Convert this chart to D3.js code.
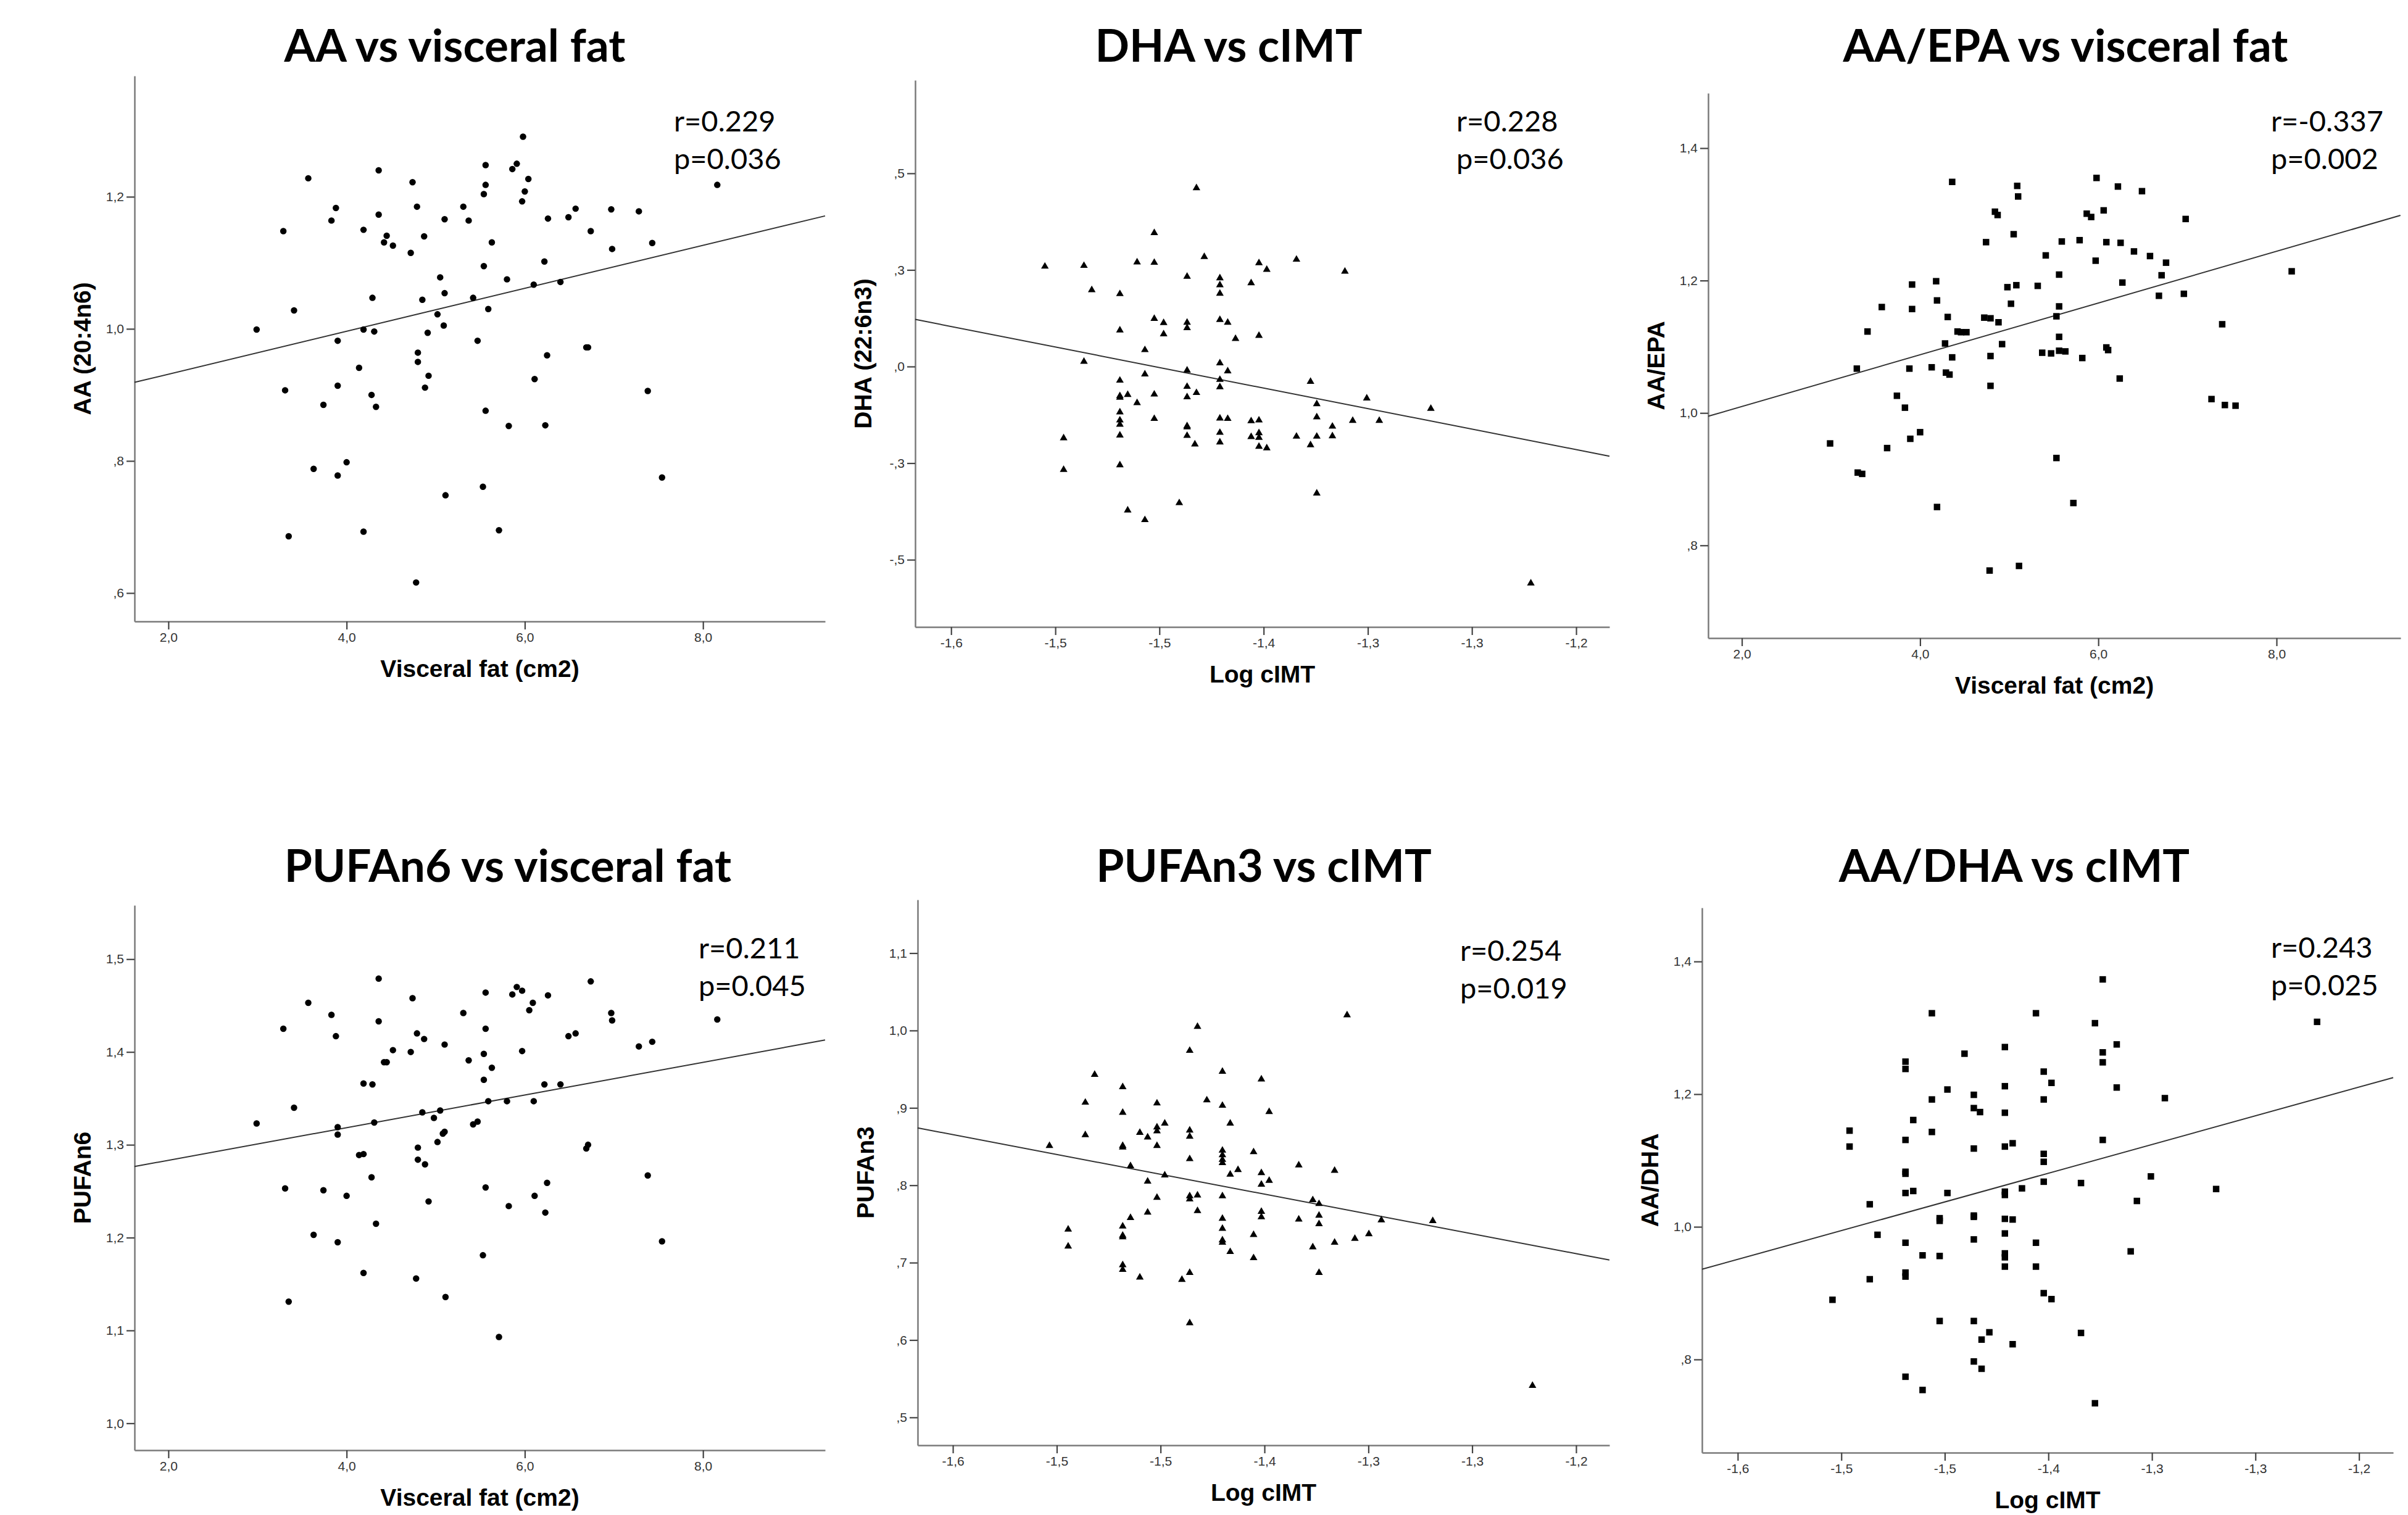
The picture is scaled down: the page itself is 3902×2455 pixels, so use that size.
<!DOCTYPE html>
<html lang="en">
<head>
<meta charset="UTF-8">
<title>Fatty acids vs visceral fat and cIMT</title>
<script src="https://d3js.org/d3.v7.min.js"></script>
<style>
  body { margin: 0; background: #fff; }
  .title { font-family: Lato, "Open Sans", sans-serif; font-weight: 700; font-size: 73px; fill: #000; }
  .stat { font-family: Lato, "Open Sans", sans-serif; font-size: 47px; fill: #000; }
  .axis-title { font-family: "Liberation Sans", Arial, sans-serif; font-weight: 700; font-size: 39px; fill: #000; }
  .tick text { font-family: "Liberation Sans", Arial, sans-serif; font-size: 21px; fill: #333; }
</style>
</head>
<body>
<script>
// ---- axis ticks and labels (SPSS style, comma decimals) ----
const fatTicks = [2, 4, 6, 8];
const fatTickLabels = ["2,0", "4,0", "6,0", "8,0"];
const imtTicks = [-1.6, -1.5333, -1.4667, -1.4, -1.3333, -1.2667, -1.2];
const imtTickLabels = ["-1,6", "-1,5", "-1,5", "-1,4", "-1,3", "-1,3", "-1,2"];

const aaTicks = [0.6, 0.8, 1.0, 1.2];
const aaTickLabels = [",6", ",8", "1,0", "1,2"];
const dhaTicks = [-0.5, -0.25, 0, 0.25, 0.5];
const dhaTickLabels = ["-,5", "-,3", ",0", ",3", ",5"];
const ratioTicks = [0.8, 1.0, 1.2, 1.4];
const ratioTickLabels = [",8", "1,0", "1,2", "1,4"];
const n6Ticks = [1.0, 1.1, 1.2, 1.3, 1.4, 1.5];
const n6TickLabels = ["1,0", "1,1", "1,2", "1,3", "1,4", "1,5"];
const n3Ticks = [0.5, 0.6, 0.7, 0.8, 0.9, 1.0, 1.1];
const n3TickLabels = [",5", ",6", ",7", ",8", ",9", "1,0", "1,1"];

// ---- points [x, y] ----
const aaFat = [[5.98,1.291],[3.57,1.228],[4.36,1.240],[5.56,1.248],[5.91,1.250],[5.86,1.242],[4.74,1.222],[6.04,1.227],[5.56,1.218],[8.16,1.218],[5.54,1.204],[6.00,1.208],[5.97,1.193],[3.88,1.183],[4.79,1.185],[5.31,1.185],[6.57,1.182],[6.97,1.181],[7.28,1.178],[3.83,1.164],[4.36,1.173],[5.10,1.166],[5.37,1.164],[6.26,1.167],[6.49,1.169],[3.29,1.148],[4.19,1.150],[4.45,1.141],[4.87,1.140],[6.74,1.148],[4.42,1.131],[4.52,1.126],[5.63,1.131],[7.43,1.130],[4.72,1.115],[6.98,1.121],[6.22,1.102],[5.54,1.095],[5.05,1.078],[5.80,1.075],[6.10,1.067],[6.40,1.071],[4.29,1.047],[4.85,1.044],[5.10,1.054],[5.42,1.047],[3.41,1.028],[5.59,1.030],[5.02,1.022],[5.09,1.005],[2.99,0.999],[4.19,0.999],[4.31,0.996],[4.91,0.994],[3.90,0.982],[5.47,0.982],[4.80,0.964],[6.69,0.972],[6.71,0.972],[6.25,0.960],[4.14,0.941],[4.80,0.950],[4.92,0.929],[6.11,0.924],[3.90,0.914],[4.88,0.911],[3.31,0.907],[7.38,0.906],[4.28,0.900],[3.74,0.885],[4.33,0.882],[5.56,0.876],[5.82,0.853],[6.23,0.854],[4.00,0.798],[3.63,0.788],[3.90,0.778],[7.54,0.775],[5.53,0.761],[5.11,0.748],[3.35,0.686],[4.19,0.693],[5.71,0.695],[4.78,0.616]];

const dhaImt = [[-1.540,0.259],[-1.515,0.261],[-1.510,0.198],[-1.492,0.188],[-1.492,0.094],[-1.481,0.270],[-1.470,0.346],[-1.470,0.269],[-1.470,0.124],[-1.464,0.113],[-1.464,0.084],[-1.476,0.043],[-1.515,0.013],[-1.449,0.233],[-1.449,0.114],[-1.449,0.100],[-1.443,0.462],[-1.438,0.284],[-1.428,0.229],[-1.428,0.211],[-1.428,0.189],[-1.428,0.121],[-1.423,0.114],[-1.418,0.072],[-1.428,0.009],[-1.408,0.216],[-1.403,0.268],[-1.398,0.251],[-1.403,0.080],[-1.379,0.277],[-1.348,0.246],[-1.492,-0.036],[-1.492,-0.076],[-1.492,-0.080],[-1.487,-0.073],[-1.481,-0.094],[-1.476,-0.020],[-1.470,-0.072],[-1.492,-0.118],[-1.492,-0.139],[-1.492,-0.150],[-1.492,-0.178],[-1.470,-0.135],[-1.449,-0.010],[-1.449,-0.052],[-1.449,-0.079],[-1.443,-0.068],[-1.449,-0.154],[-1.449,-0.157],[-1.449,-0.179],[-1.444,-0.201],[-1.428,-0.034],[-1.428,-0.053],[-1.423,-0.012],[-1.428,-0.134],[-1.423,-0.135],[-1.428,-0.171],[-1.428,-0.196],[-1.408,-0.141],[-1.403,-0.139],[-1.408,-0.182],[-1.403,-0.172],[-1.403,-0.184],[-1.403,-0.207],[-1.398,-0.211],[-1.379,-0.181],[-1.370,-0.039],[-1.366,-0.097],[-1.366,-0.131],[-1.366,-0.181],[-1.370,-0.203],[-1.356,-0.155],[-1.356,-0.180],[-1.343,-0.140],[-1.334,-0.082],[-1.326,-0.140],[-1.293,-0.109],[-1.528,-0.185],[-1.528,-0.267],[-1.492,-0.255],[-1.487,-0.372],[-1.476,-0.397],[-1.454,-0.353],[-1.366,-0.328],[-1.229,-0.561]];

const aaEpaFat = [[2.99,0.954],[3.30,0.910],[3.35,0.908],[3.29,1.067],[3.41,1.123],[3.57,1.160],[3.63,0.947],[3.74,1.026],[3.83,1.008],[3.88,1.067],[3.89,0.961],[3.91,1.194],[3.91,1.157],[4.00,0.971],[4.13,1.069],[4.18,1.199],[4.19,1.170],[4.19,0.858],[4.28,1.105],[4.31,1.145],[4.29,1.061],[4.33,1.058],[4.36,1.349],[4.36,1.084],[4.42,1.123],[4.46,1.122],[4.52,1.122],[4.72,1.144],[4.74,1.258],[4.78,0.762],[4.79,1.143],[4.79,1.086],[4.79,1.041],[4.84,1.304],[4.87,1.299],[4.88,1.137],[4.92,1.104],[4.98,1.190],[5.02,1.165],[5.05,1.270],[5.08,1.193],[5.09,1.343],[5.10,1.327],[5.11,0.769],[5.32,1.192],[5.37,1.091],[5.41,1.238],[5.47,1.090],[5.53,1.146],[5.53,0.932],[5.56,1.209],[5.56,1.115],[5.56,1.161],[5.56,1.094],[5.59,1.259],[5.63,1.093],[5.72,0.864],[5.79,1.261],[5.82,1.083],[5.87,1.301],[5.92,1.296],[5.98,1.355],[5.97,1.230],[6.06,1.306],[6.09,1.258],[6.09,1.099],[6.11,1.095],[6.22,1.342],[6.24,1.052],[6.25,1.257],[6.27,1.197],[6.40,1.244],[6.49,1.335],[6.58,1.237],[6.68,1.177],[6.71,1.208],[6.76,1.227],[6.96,1.180],[6.98,1.293],[7.27,1.021],[7.39,1.134],[7.42,1.012],[7.54,1.011],[8.17,1.214]];

const pufa6Fat = [[2.99,1.323],[3.29,1.425],[3.31,1.253],[3.35,1.131],[3.41,1.340],[3.57,1.453],[3.63,1.203],[3.74,1.251],[3.83,1.440],[3.88,1.417],[3.90,1.319],[3.90,1.311],[3.90,1.195],[4.00,1.245],[4.14,1.289],[4.19,1.290],[4.19,1.366],[4.19,1.162],[4.29,1.365],[4.28,1.265],[4.31,1.324],[4.33,1.215],[4.36,1.479],[4.36,1.433],[4.42,1.389],[4.45,1.389],[4.52,1.402],[4.72,1.400],[4.74,1.458],[4.79,1.420],[4.80,1.297],[4.80,1.284],[4.78,1.156],[4.85,1.335],[4.87,1.414],[4.88,1.279],[4.92,1.239],[4.98,1.329],[5.02,1.303],[5.05,1.337],[5.08,1.312],[5.10,1.314],[5.10,1.408],[5.11,1.136],[5.31,1.442],[5.37,1.391],[5.42,1.322],[5.47,1.325],[5.53,1.181],[5.54,1.398],[5.54,1.370],[5.56,1.464],[5.56,1.425],[5.56,1.254],[5.59,1.347],[5.63,1.383],[5.71,1.093],[5.80,1.347],[5.82,1.234],[5.86,1.462],[5.91,1.470],[5.97,1.466],[5.97,1.401],[6.05,1.445],[6.09,1.453],[6.10,1.347],[6.11,1.245],[6.22,1.365],[6.23,1.227],[6.25,1.259],[6.26,1.461],[6.40,1.365],[6.49,1.417],[6.57,1.420],[6.69,1.296],[6.71,1.300],[6.74,1.476],[6.97,1.442],[6.98,1.434],[7.28,1.406],[7.38,1.267],[7.43,1.411],[7.54,1.196],[8.16,1.435]];

const pufa3Imt = [[-1.538,0.851],[-1.526,0.743],[-1.526,0.721],[-1.515,0.907],[-1.515,0.865],[-1.509,0.943],[-1.491,0.927],[-1.491,0.894],[-1.491,0.851],[-1.491,0.849],[-1.491,0.747],[-1.491,0.735],[-1.491,0.733],[-1.491,0.697],[-1.491,0.691],[-1.486,0.825],[-1.486,0.758],[-1.480,0.868],[-1.480,0.681],[-1.475,0.862],[-1.475,0.805],[-1.475,0.765],[-1.469,0.906],[-1.469,0.875],[-1.469,0.870],[-1.469,0.851],[-1.469,0.784],[-1.464,0.880],[-1.464,0.813],[-1.453,0.678],[-1.448,0.974],[-1.448,0.871],[-1.448,0.863],[-1.448,0.834],[-1.448,0.786],[-1.448,0.782],[-1.448,0.687],[-1.448,0.622],[-1.443,1.005],[-1.443,0.787],[-1.443,0.767],[-1.437,0.910],[-1.427,0.947],[-1.427,0.903],[-1.427,0.845],[-1.427,0.839],[-1.427,0.833],[-1.427,0.829],[-1.427,0.786],[-1.427,0.757],[-1.427,0.744],[-1.427,0.729],[-1.427,0.726],[-1.422,0.880],[-1.422,0.814],[-1.422,0.714],[-1.417,0.820],[-1.407,0.843],[-1.407,0.736],[-1.407,0.706],[-1.402,0.937],[-1.402,0.816],[-1.402,0.801],[-1.402,0.766],[-1.402,0.759],[-1.397,0.806],[-1.397,0.895],[-1.378,0.826],[-1.378,0.756],[-1.369,0.781],[-1.369,0.720],[-1.365,0.776],[-1.365,0.761],[-1.365,0.750],[-1.365,0.687],[-1.355,0.819],[-1.355,0.726],[-1.347,1.020],[-1.342,0.731],[-1.333,0.737],[-1.325,0.755],[-1.292,0.754],[-1.228,0.541]];

const aaDhaImt = [[-1.539,0.890],[-1.528,1.145],[-1.528,1.121],[-1.515,1.034],[-1.515,0.921],[-1.510,0.988],[-1.492,1.249],[-1.492,1.238],[-1.492,1.131],[-1.492,1.083],[-1.492,1.080],[-1.492,1.051],[-1.492,0.976],[-1.492,0.931],[-1.492,0.925],[-1.492,0.774],[-1.487,1.161],[-1.487,1.054],[-1.481,0.957],[-1.481,0.754],[-1.475,1.322],[-1.475,1.192],[-1.475,1.143],[-1.470,1.013],[-1.470,1.009],[-1.470,0.956],[-1.470,0.858],[-1.465,1.207],[-1.465,1.051],[-1.454,1.261],[-1.448,1.199],[-1.448,1.179],[-1.448,1.118],[-1.448,1.017],[-1.448,1.015],[-1.448,0.981],[-1.448,0.858],[-1.448,0.797],[-1.444,1.173],[-1.443,0.830],[-1.443,0.786],[-1.438,0.841],[-1.428,1.271],[-1.428,1.212],[-1.428,1.172],[-1.428,1.121],[-1.428,1.053],[-1.428,1.048],[-1.428,1.012],[-1.428,0.990],[-1.428,0.960],[-1.428,0.954],[-1.428,0.940],[-1.423,1.126],[-1.423,1.011],[-1.423,0.823],[-1.417,1.058],[-1.408,1.322],[-1.408,0.976],[-1.408,0.940],[-1.403,1.234],[-1.403,1.192],[-1.403,1.110],[-1.403,1.098],[-1.403,1.068],[-1.403,0.900],[-1.398,1.217],[-1.398,0.891],[-1.379,1.066],[-1.379,0.840],[-1.370,1.307],[-1.370,0.734],[-1.365,1.373],[-1.365,1.263],[-1.365,1.248],[-1.365,1.131],[-1.356,1.275],[-1.356,1.210],[-1.347,0.963],[-1.343,1.039],[-1.334,1.076],[-1.325,1.194],[-1.292,1.057],[-1.227,1.309]];

// ---- fit lines, end points at the axis limits ----
const aaFatFit = [[1.62, 0.919], [9.37, 1.171]];
const dhaImtFit = [[-1.623, 0.122], [-1.1787, -0.232]];
const aaEpaFatFit = [[1.622, 0.995], [9.39, 1.2985]];
const pufa6FatFit = [[1.62, 1.2766], [9.37, 1.4129]];
const pufa3ImtFit = [[-1.6226, 0.8741], [-1.1786, 0.7034]];
const aaDhaImtFit = [[-1.623, 0.936], [-1.178, 1.225]];

// ---- correlation labels ----
const statR = ["r=0.229", "r=0.228", "r=-0.337", "r=0.211", "r=0.254", "r=0.243"];
const statP = ["p=0.036", "p=0.036", "p=0.002", "p=0.045", "p=0.019", "p=0.025"];
const titles = ["AA vs visceral fat", "DHA vs cIMT", "AA/EPA vs visceral fat",
                "PUFAn6 vs visceral fat", "PUFAn3 vs cIMT", "AA/DHA vs cIMT"];

// ---- panel layout (pixels) ----
const panels = [
  { pts: aaFat, fit: aaFatFit, marker: "circle", xLabel: "Visceral fat (cm2)", yLabel: "AA (20:4n6)",
    xDom: [1.62, 9.37], yDom: [0.557, 1.383], xT: fatTicks, xL: fatTickLabels, yT: aaTicks, yL: aaTickLabels,
    box: { l: 218, r: 1337, t: 123, b: 1007 }, titleX: 737, titleY: 100, statX: 1092, statY: 213 },
  { pts: dhaImt, fit: dhaImtFit, marker: "triangle", xLabel: "Log cIMT", yLabel: "DHA (22:6n3)",
    xDom: [-1.623, -1.1787], yDom: [-0.674, 0.741], xT: imtTicks, xL: imtTickLabels, yT: dhaTicks, yL: dhaTickLabels,
    box: { l: 1483, r: 2608, t: 130, b: 1016 }, titleX: 1991, titleY: 100, statX: 2360, statY: 213 },
  { pts: aaEpaFat, fit: aaEpaFatFit, marker: "square", xLabel: "Visceral fat (cm2)", yLabel: "AA/EPA",
    xDom: [1.622, 9.392], yDom: [0.660, 1.483], xT: fatTicks, xL: fatTickLabels, yT: ratioTicks, yL: ratioTickLabels,
    box: { l: 2768, r: 3890, t: 151, b: 1034 }, titleX: 3347, titleY: 100, statX: 3680, statY: 213 },
  { pts: pufa6Fat, fit: pufa6FatFit, marker: "circle", xLabel: "Visceral fat (cm2)", yLabel: "PUFAn6",
    xDom: [1.62, 9.37], yDom: [0.971, 1.558], xT: fatTicks, xL: fatTickLabels, yT: n6Ticks, yL: n6TickLabels,
    box: { l: 218, r: 1337, t: 1467, b: 2350 }, titleX: 823, titleY: 1429, statX: 1132, statY: 1553 },
  { pts: pufa3Imt, fit: pufa3ImtFit, marker: "triangle", xLabel: "Log cIMT", yLabel: "PUFAn3",
    xDom: [-1.6226, -1.1786], yDom: [0.464, 1.169], xT: imtTicks, xL: imtTickLabels, yT: n3Ticks, yL: n3TickLabels,
    box: { l: 1487, r: 2608, t: 1458, b: 2342 }, titleX: 2048, titleY: 1429, statX: 2366, statY: 1557 },
  { pts: aaDhaImt, fit: aaDhaImtFit, marker: "square", xLabel: "Log cIMT", yLabel: "AA/DHA",
    xDom: [-1.623, -1.178], yDom: [0.6595, 1.481], xT: imtTicks, xL: imtTickLabels, yT: ratioTicks, yL: ratioTickLabels,
    box: { l: 2758, r: 3878, t: 1471, b: 2354 }, titleX: 3264, titleY: 1429, statX: 3680, statY: 1552 }
];

const svg = d3.select("body").append("svg")
  .attr("width", 3902).attr("height", 2455)
  .style("display", "block");

const symbols = {
  circle: d3.symbol().type(d3.symbolCircle).size(86),
  triangle: d3.symbol().type(d3.symbolTriangle).size(66),
  square: d3.symbol().type(d3.symbolSquare).size(110)
};

panels.forEach(function (p, i) {
  const g = svg.append("g");
  const x = d3.scaleLinear().domain(p.xDom).range([p.box.l, p.box.r]);
  const y = d3.scaleLinear().domain(p.yDom).range([p.box.b, p.box.t]);

  // axes
  const xAxis = d3.axisBottom(x).tickValues(p.xT).tickFormat((d, k) => p.xL[k])
    .tickSizeInner(13).tickSizeOuter(0).tickPadding(5);
  const yAxis = d3.axisLeft(y).tickValues(p.yT).tickFormat((d, k) => p.yL[k])
    .tickSizeInner(13).tickSizeOuter(0).tickPadding(4);

  const gx = g.append("g").attr("transform", `translate(0,${p.box.b})`).call(xAxis);
  const gy = g.append("g").attr("transform", `translate(${p.box.l},0)`).call(yAxis);
  [gx, gy].forEach(function (a) {
    a.attr("font-family", null).attr("font-size", null);
    a.select(".domain").attr("stroke", "#7a7a7a").attr("stroke-width", 2.5);
    a.selectAll(".tick line").attr("stroke", "#444").attr("stroke-width", 2.2);
  });

  // fit line
  g.append("line")
    .attr("x1", x(p.fit[0][0])).attr("y1", y(p.fit[0][1]))
    .attr("x2", x(p.fit[1][0])).attr("y2", y(p.fit[1][1]))
    .attr("stroke", "#333").attr("stroke-width", 2);

  // points
  g.append("g").selectAll("path")
    .data(p.pts)
    .join("path")
    .attr("d", symbols[p.marker])
    .attr("transform", d => `translate(${x(d[0])},${y(d[1])})`)
    .attr("fill", "#000");

  // axis titles
  g.append("text").attr("class", "axis-title")
    .attr("x", (p.box.l + p.box.r) / 2).attr("y", p.box.b + 90)
    .attr("text-anchor", "middle").text(p.xLabel);
  g.append("text").attr("class", "axis-title")
    .attr("transform", `translate(${p.box.l - 85},${(p.box.t + p.box.b) / 2}) rotate(-90)`)
    .attr("dy", "0.36em").attr("text-anchor", "middle").text(p.yLabel);

  // chart title and stats
  g.append("text").attr("class", "title")
    .attr("x", p.titleX).attr("y", p.titleY)
    .attr("text-anchor", "middle").text(titles[i]);
  g.append("text").attr("class", "stat")
    .attr("x", p.statX).attr("y", p.statY).text(statR[i]);
  g.append("text").attr("class", "stat")
    .attr("x", p.statX).attr("y", p.statY + 61).text(statP[i]);
});
</script>
</body>
</html>
